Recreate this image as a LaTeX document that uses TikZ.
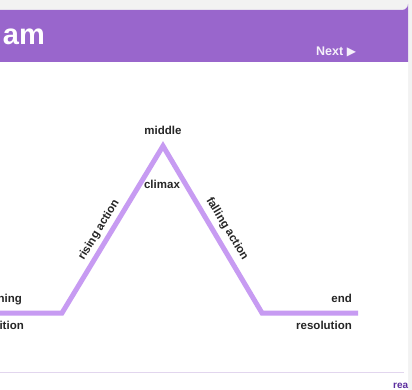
\documentclass[tikz,border=0pt]{standalone}
\usepackage{fontspec}
\setmainfont{Liberation Sans}
\newfontfamily\symfont{DejaVu Sans}
\definecolor{hdr}{HTML}{9966CC}
\definecolor{plotline}{HTML}{C79BF2}
\definecolor{pagebg}{HTML}{F2F2F2}
\definecolor{rule}{HTML}{E2D6EE}
\definecolor{linkc}{HTML}{5B2E9E}
\tikzset{
  lbl/.style={font=\fontsize{11.5}{12}\selectfont\bfseries, text=black!85, inner sep=0pt},
  plot/.style={draw=plotline, line width=5pt, line join=miter},
}
\begin{document}
\begin{tikzpicture}[x=1pt,y=-1pt]
\useasboundingbox (0,0) rectangle (412,390);
\clip (0,0) rectangle (412,390);
\fill[pagebg] (0,0) rectangle (412,390);
% card
\fill[white] (-10,10) -- (402,10) arc[start angle=90,end angle=0,radius=6] -- (408,400) -- (-10,400) -- cycle;
% header
\fill[hdr] (-10,10) -- (402,10) arc[start angle=90,end angle=0,radius=6] -- (408,62) -- (-10,62) -- cycle;
\node[font=\fontsize{29}{30}\selectfont\bfseries, text=white, anchor=base east, inner sep=0pt] (title) at (45,45) {am};
\node[font=\fontsize{12.5}{13}\selectfont\bfseries, text=white!90!hdr, anchor=base west, inner sep=0pt] (next) at (316,56) {Next {\symfont\fontsize{12}{13}\selectfont ▶}};
% bottom rule
\draw[rule, line width=1pt] (-10,372) -- (404,372);
\node[font=\fontsize{10}{11}\selectfont\bfseries, text=linkc, anchor=base west, inner sep=0pt] (link) at (393,388) {rea};
% plot line
\coordinate (s) at (-10,313);
\coordinate (a) at (62,313);
\coordinate (p) at (163,146);
\coordinate (b) at (262,313);
\coordinate (e) at (358,313);
\draw[plot] (s) -- (a) -- (p) -- (b) -- (e);
% labels
\node[lbl, anchor=base] (middle) at (163,135) {middle};
\node[lbl, anchor=base] (climax) at (162,189) {climax};
\node[lbl, rotate=58.8] (rising) at (99,230) {rising action};
\node[lbl, rotate=-58.8] (falling) at (227,229) {falling action};
\node[lbl, anchor=base east] (beg) at (22,302) {beginning};
\node[lbl, anchor=base east] (expo) at (24,329) {exposition};
\node[lbl, anchor=base east] (end) at (352,302) {end};
\node[lbl, anchor=base east] (reso) at (352,329) {resolution};
\end{tikzpicture}
\end{document}
